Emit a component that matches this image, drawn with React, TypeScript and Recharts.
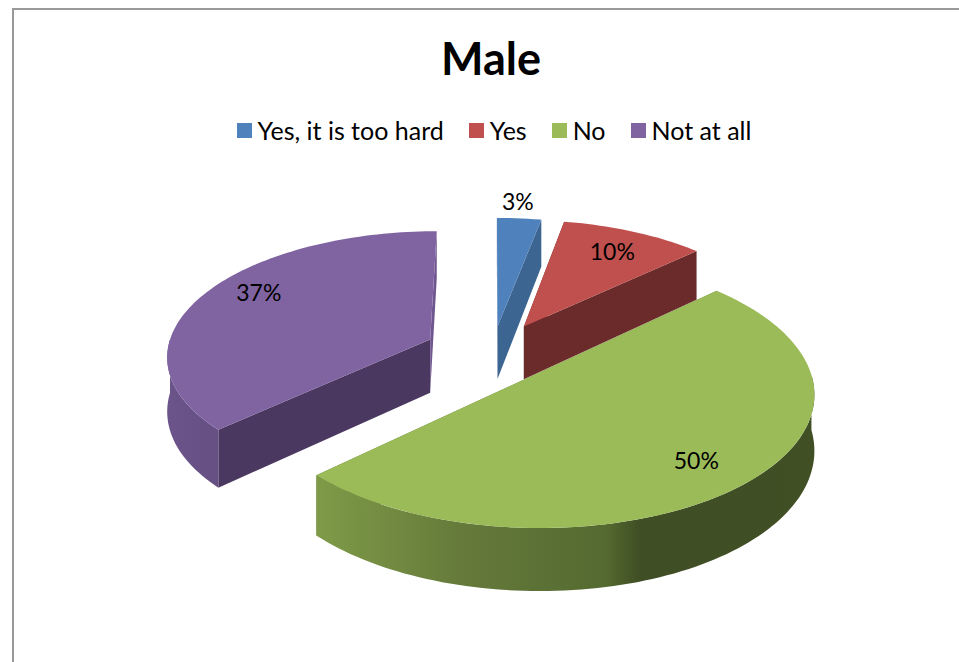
import { Legend, Pie, PieChart } from 'recharts'

const categories = ['Yes, it is too hard', 'Yes', 'No', 'Not at all']
const shares = [3, 10, 50, 37]
const topColors = ['#4f81bd', '#c0504d', '#9bbb59', '#8064a2']

const chartData = categories.map((name, i) => ({ name, value: shares[i], fill: topColors[i] }))

// end faces of each exploded slice (start cut, end cut)
const startFaces = ['#3c6592', '#6b2b2a', '#5f7535', '#4a3860']
const endFaces = ['#3c6592', '#6b2b2a', '#5f7535', '#6f568f']
const explodeBy = [60, 68, 60, 70]
const explodeTurn = [0, 0, 0, 3]
const radiusScale = [1, 0.98, 1, 0.97]
const labelRadius = [1.18, 0.77, 0.79, 0.79]
const labelTurn = [-1, 0, 1, 7]

const FONT = 'Lato, sans-serif'
const TILT = 0.472
const PERSPECTIVE = 0.000455
const DEPTH = 54

const rad = (d: number) => (d * Math.PI) / 180

// plane coordinates to screen, back of the pie shrinks
function project(cx: number, cy: number, X: number, Y: number) {
  const f = 1 / (1 + PERSPECTIVE * Y)
  return { x: cx + X * f, y: cy - TILT * Y * f, h: DEPTH * f }
}

function apexOf(midClock: number, index: number) {
  const a = rad(midClock + explodeTurn[index])
  return { X: explodeBy[index] * Math.sin(a), Y: explodeBy[index] * Math.cos(a) }
}

function Slice(props: any) {
  const { cx, cy, outerRadius, startAngle, endAngle, fill, index } = props
  const R = outerRadius * radiusScale[index]
  const a0 = 90 - startAngle
  const a1 = 90 - endAngle
  const apex = apexOf((a0 + a1) / 2, index)
  const rim = (a: number) =>
    project(cx, cy, apex.X + R * Math.sin(rad(a)), apex.Y + R * Math.cos(rad(a)))
  const tip = project(cx, cy, apex.X, apex.Y)

  const arc: { x: number; y: number; h: number }[] = []
  for (let a = a0; a < a1; a += 1.5) arc.push(rim(a))
  arc.push(rim(a1))

  const top =
    `M${tip.x},${tip.y} ` + arc.map((p) => `L${p.x},${p.y}`).join(' ') + ' Z'

  const face = (p: { x: number; y: number; h: number }) =>
    `M${tip.x},${tip.y} L${p.x},${p.y} L${p.x},${p.y + p.h} L${tip.x},${tip.y + tip.h} Z`

  // outer wall is only seen on the front half of the rim
  const wallFrom = Math.max(a0, 90)
  const wallTo = Math.min(a1, 270)
  let wall = ''
  if (wallTo > wallFrom) {
    const pts: { x: number; y: number; h: number }[] = []
    for (let a = wallFrom; a < wallTo; a += 1.5) pts.push(rim(a))
    pts.push(rim(wallTo))
    wall =
      'M' +
      pts.map((p) => `${p.x},${p.y}`).join(' L') +
      ' L' +
      pts
        .slice()
        .reverse()
        .map((p) => `${p.x},${p.y + p.h}`)
        .join(' L') +
      ' Z'
  }
  const gradId = `wall-${index}`

  return (
    <g>
      <defs>
        {index === 2 ? (
          <linearGradient id={gradId} x1="1" y1="0" x2="0" y2="0">
            <stop offset="0%" stopColor="#414f25" />
            <stop offset="35%" stopColor="#3f4e24" />
            <stop offset="42%" stopColor="#556a30" />
            <stop offset="70%" stopColor="#64793a" />
            <stop offset="100%" stopColor="#7f9b48" />
          </linearGradient>
        ) : (
          <linearGradient id={gradId} x1="0" y1="0" x2="1" y2="0">
            <stop offset="0%" stopColor="#6b5489" />
            <stop offset="100%" stopColor="#654f83" />
          </linearGradient>
        )}
      </defs>
      <path d={face(rim(a0))} fill={startFaces[index]} />
      <path d={face(rim(a1))} fill={endFaces[index]} />
      {wall && <path d={wall} fill={`url(#${gradId})`} />}
      <path d={top} fill={fill} />
    </g>
  )
}

function renderLabel(props: any) {
  const { cx, cy, midAngle, outerRadius: R, index, value } = props
  const mid = 90 - midAngle
  const apex = apexOf(mid, index)
  const a = mid + labelTurn[index]
  const r = R * labelRadius[index]
  const p = project(cx, cy, apex.X + r * Math.sin(rad(a)), apex.Y + r * Math.cos(rad(a)))
  return (
    <text x={p.x} y={p.y} textAnchor="middle" dominantBaseline="central" fontFamily={FONT} fontSize={23} fill="#000">
      {value}%
    </text>
  )
}

function LegendRow({ payload }: any) {
  return (
    <div style={{ display: 'flex', justifyContent: 'center', gap: 25, fontFamily: FONT, fontSize: 25, color: '#000' }}>
      {(payload ?? []).map((item: any) => (
        <div key={item.value} style={{ display: 'flex', alignItems: 'center', gap: 6 }}>
          <span style={{ width: 15, height: 15, background: item.color, display: 'inline-block' }} />
          <span>{item.value}</span>
        </div>
      ))}
    </div>
  )
}

export default function App() {
  return (
    <div style={{ position: 'absolute', left: 0, top: 0, width: 959, height: 662, background: '#fff', overflow: 'hidden' }}>
      <div style={{ position: 'absolute', left: 12, top: 8, width: 947, height: 654, borderTop: '2px solid #999', borderLeft: '2px solid #999', boxSizing: 'border-box' }} />
      <PieChart width={959} height={662} style={{ position: 'absolute', left: 0, top: 0 }}>
        <text x={491} y={75} textAnchor="middle" fontFamily={FONT} fontWeight={700} fontSize={45} fill="#000">
          Male
        </text>
        <Legend content={<LegendRow />} itemSorter={null} verticalAlign="top" wrapperStyle={{ top: 115, left: 0, width: 988 }} />
        <Pie
          data={chartData}
          dataKey="value"
          nameKey="name"
          cx={487}
          cy={319}
          outerRadius={272}
          startAngle={90}
          endAngle={-270}
          stroke="none"
          shape={Slice}
          label={renderLabel}
          labelLine={false}
          isAnimationActive={false}
        />
      </PieChart>
    </div>
  )
}
